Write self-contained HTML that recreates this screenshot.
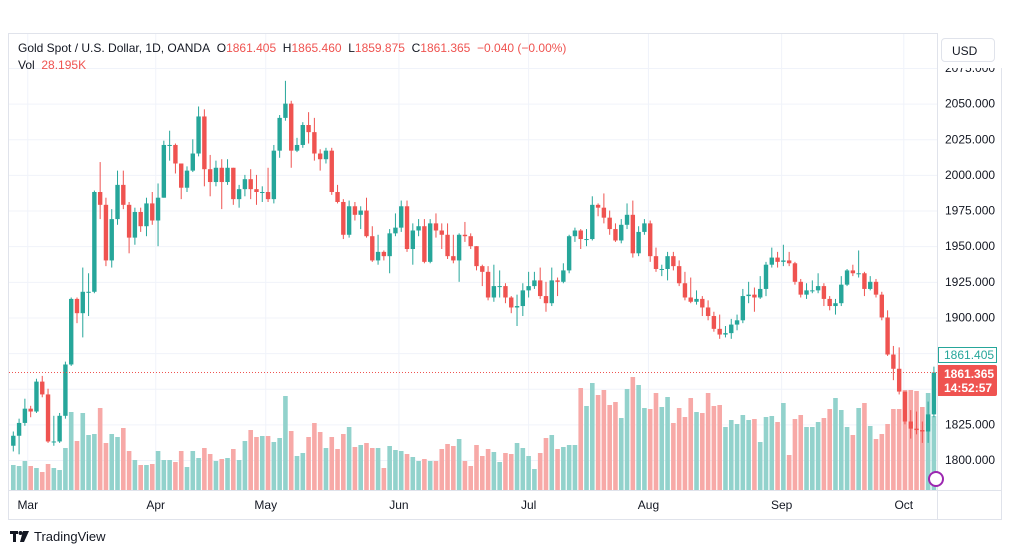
<!DOCTYPE html>
<html><head><meta charset="utf-8"><style>
body{margin:0;width:1012px;height:555px;background:#fff;font-family:"Liberation Sans",sans-serif;overflow:hidden;position:relative}
svg{position:absolute;left:0;top:0}
.r{color:#ef5350}
</style></head><body>
<svg id="c" width="1012" height="555" font-family="Liberation Sans, sans-serif"></svg>
<script>
const opens=[1810,1817,1826,1836,1834,1855,1846,1813,1813,1831,1867,1913,1903,1918,1918,1988,1979,1940,1969,1993,1979,1956,1974,1964,1980,1968,1984,2021,2021,2008,1991,2003,2015,2041,2004,1995,2005,1995,2005,1983,1990,1997,1990,1988,1988,1983,2017,2040,2050,2017,2021,2035,2030,2015,2011,2017,1988,1981,1958,1978,1972,1975,1957,1940,1946,1943,1959,1963,1978,1948,1961,1964,1939,1966,1961,1958,1943,1940,1958,1957,1950,1936,1932,1914,1922,1922,1914,1907,1908,1919,1922,1926,1915,1910,1926,1925,1933,1957,1961,1955,1955,1979,1977,1970,1962,1954,1965,1972,1945,1960,1966,1943,1934,1934,1943,1936,1924,1914,1911,1913,1907,1901,1892,1888,1889,1895,1898,1915,1916,1914,1920,1937,1942,1939,1940,1938,1925,1916,1919,1919,1922,1913,1908,1910,1923,1933,1931,1931,1920,1925,1916,1900,1874,1864,1848,1827,1822,1821,1820,1832];
const closes=[1817,1826,1836,1834,1855,1846,1813,1813,1831,1867,1913,1903,1918,1918,1988,1979,1940,1969,1993,1979,1956,1974,1964,1980,1968,1984,2021,2021,2008,1991,2003,2015,2041,2004,1995,2005,1995,2005,1983,1990,1997,1990,1988,1988,1983,2017,2040,2050,2017,2021,2035,2030,2015,2011,2017,1988,1981,1958,1978,1972,1975,1957,1940,1946,1943,1959,1963,1978,1948,1961,1964,1939,1966,1961,1958,1943,1940,1958,1957,1950,1936,1932,1914,1922,1922,1914,1907,1908,1919,1922,1926,1915,1910,1926,1925,1933,1957,1961,1955,1955,1979,1977,1970,1962,1954,1965,1972,1945,1960,1966,1943,1934,1934,1943,1936,1924,1914,1911,1913,1907,1901,1892,1888,1889,1895,1898,1915,1916,1914,1920,1937,1942,1939,1940,1938,1925,1916,1919,1919,1922,1913,1908,1910,1923,1933,1931,1931,1920,1925,1916,1900,1874,1864,1848,1827,1822,1821,1820,1832,1861.4];
const highs=[1820,1829,1843,1838,1857,1859,1850,1831,1833,1869,1914,1914,1935,1931,1989,2009,1984,1976,2003,2003,1981,1977,1977,1984,1988,1994,2024,2031,2022,2008,2006,2025,2048,2046,2014,2010,2011,2011,2005,1993,2000,2004,2000,1992,2005,2021,2042,2066,2052,2026,2037,2044,2040,2018,2019,2019,1993,1983,1982,1981,1978,1984,1964,1958,1947,1962,1973,1982,1982,1966,1969,1969,1969,1973,1966,1966,1958,1959,1967,1959,1950,1937,1936,1937,1933,1924,1915,1916,1924,1932,1932,1935,1925,1935,1928,1938,1958,1963,1962,1962,1985,1980,1987,1975,1966,1969,1980,1982,1964,1969,1968,1949,1937,1946,1946,1940,1932,1928,1919,1915,1912,1904,1902,1894,1899,1902,1920,1925,1921,1929,1939,1949,1946,1951,1946,1939,1927,1924,1926,1931,1924,1915,1913,1929,1934,1937,1947,1932,1929,1927,1918,1905,1880,1879,1848,1835,1834,1827,1841,1865.5];
const lows=[1806,1804,1824,1830,1833,1844,1812,1810,1812,1829,1866,1896,1886,1901,1917,1969,1936,1935,1965,1976,1945,1951,1960,1957,1965,1950,1984,2010,2001,1983,1988,2002,2013,1992,1985,1992,1976,1993,1979,1977,1985,1983,1979,1981,1981,1980,2012,2038,2005,2016,2019,2022,2010,2003,2008,1986,1980,1955,1956,1968,1962,1956,1939,1937,1940,1931,1957,1960,1946,1937,1957,1938,1938,1956,1948,1941,1938,1925,1953,1948,1933,1922,1912,1911,1914,1910,1903,1894,1901,1914,1920,1913,1904,1908,1915,1924,1931,1953,1948,1950,1954,1971,1966,1958,1953,1952,1962,1942,1943,1958,1939,1932,1929,1926,1933,1922,1912,1910,1909,1901,1898,1890,1885,1886,1885,1891,1896,1910,1904,1913,1915,1935,1935,1936,1936,1923,1914,1913,1917,1917,1908,1905,1902,1908,1922,1929,1928,1915,1919,1914,1898,1873,1856,1846,1825,1815,1818,1812,1812,1830];
const volumes=[25,24,29,24,22,18,26,22,20,42,78,49,77,55,56,82,47,56,53,62,39,30,25,25,26,39,30,30,28,39,23,39,32,42,36,29,31,32,41,30,49,60,53,54,54,48,52,94,59,34,37,53,67,58,42,53,41,56,63,43,45,47,42,42,22,44,40,39,36,33,29,31,29,29,41,46,44,51,29,24,45,34,41,38,28,37,36,47,42,34,21,37,52,55,41,43,45,45,102,84,107,95,100,85,88,72,101,113,105,82,81,97,83,93,67,82,73,92,78,77,97,84,85,63,70,66,75,70,71,48,73,74,68,87,35,71,75,63,63,68,72,81,92,80,63,55,82,87,64,51,56,66,81,81,100,100,99,83,97,74];
const priceTicks=[2075,2050,2025,2000,1975,1950,1925,1900,1875,1850,1825,1800];
const priceLabels=[1,1,1,1,1,1,1,1,0,0,1,1];
const months=["Mar","Apr","May","Jun","Jul","Aug","Sep","Oct"];
const monthIdx=[2.5,24.6,43.6,66.6,89,109.7,132.7,153.8];

const NS="http://www.w3.org/2000/svg";
const svg=document.getElementById('c');
function el(t,a,p){const e=document.createElementNS(NS,t);for(const k in a)e.setAttribute(k,a[k]);(p||svg).appendChild(e);return e;}
const yP=p=>460-(p-1800)*1.4255;
const xI=i=>13.3+i*5.79;
const yV=v=>490-v;
const UP="#26a69a",DN="#ef5350",UPV="#92d2cc",DNV="#f7a9a7";

let fr=el('rect',{x:8.5,y:33.5,width:993,height:486,fill:'none',stroke:'#e0e3eb'});


el('line',{x1:937.5,y1:34,x2:937.5,y2:519,stroke:'#e0e3eb'});
el('line',{x1:9,y1:490.5,x2:1001,y2:490.5,stroke:'#e0e3eb'});

const g=el('g',{});


priceTicks.forEach(p=>{el('line',{x1:9,x2:937,y1:yP(p)+.5,y2:yP(p)+.5,stroke:'#f0f3fa'},g);});
monthIdx.forEach(m=>{el('line',{x1:xI(m),x2:xI(m),y1:34,y2:490,stroke:'#f0f3fa'},g);});

const vg=el('g',{});


volumes.forEach((v,i)=>{
  const r=el('rect',{x:xI(i)-2.3,y:yV(v),width:4.6,height:v,fill:closes[i]>=opens[i]?UPV:DNV},vg);
  
  
});

const cg=el('g',{});


opens.forEach((o,i)=>{
  const c=closes[i],col=c>=o?UP:DN,x=xI(i);
  el('line',{x1:x,x2:x,y1:yP(highs[i]),y2:yP(lows[i]),stroke:col,'stroke-width':1},cg);
  const t=yP(Math.max(o,c)),b=yP(Math.min(o,c));
  const r=el('rect',{x:x-2.2,y:t,width:4.4,height:Math.max(1,b-t),fill:col},cg);
  
  
});

el('line',{x1:9,x2:937,y1:yP(1861.365),y2:yP(1861.365),stroke:DN,'stroke-dasharray':'1 2','stroke-width':1});

priceTicks.forEach((p,i)=>{
  if(!priceLabels[i])return;
  const t=el('text',{x:945,y:yP(p)+4,'font-size':12,fill:'#131722'});
  t.textContent=p.toFixed(3);
  
  
});
el('rect',{x:938,y:0,width:64,height:68,fill:'#fff'});
months.forEach((m,i)=>{
  const t=el('text',{x:xI(monthIdx[i]),y:509,'font-size':12,fill:'#131722','text-anchor':'middle'});
  t.textContent=m;
  
  
});
</script>
<div style="position:absolute;left:941px;top:38px;width:54px;height:24px;border:1px solid #e0e3eb;border-radius:4px;font-size:12px;line-height:24px;padding-left:10px;box-sizing:border-box;color:#131722;background:#fff">USD</div>
<div style="position:absolute;left:938px;top:347px;width:59px;height:16px;border:1px solid #26a69a;box-sizing:border-box;font-size:12px;line-height:14px;color:#26a69a;padding-left:5px;background:#fff">1861.405</div>
<div style="position:absolute;left:938px;top:365px;width:59px;height:31px;background:#ef5350;border-radius:0 2px 2px 0;font-size:12px;line-height:14px;color:#fff;padding:2px 0 0 6px;box-sizing:border-box;font-weight:bold">1861.365<br>14:52:57</div>
<div style="position:absolute;left:18px;top:41px;font-size:12px;color:#131722;white-space:nowrap">Gold Spot / U.S. Dollar, 1D, OANDA&nbsp; O<span class="r">1861.405</span>&nbsp; H<span class="r">1865.460</span>&nbsp; L<span class="r">1859.875</span>&nbsp; C<span class="r">1861.365</span>&nbsp; <span class="r">−0.040 (−0.00%)</span></div>
<div style="position:absolute;left:18px;top:58px;font-size:12px;color:#131722">Vol&nbsp; <span class="r">28.195K</span></div>
<div style="position:absolute;left:928px;top:471px;width:16px;height:16px;border:2px solid #9c27b0;border-radius:50%;box-sizing:border-box;background:#fff"></div>
<div style="position:absolute;left:10px;top:529px;font-size:13px;color:#131722;display:flex;align-items:center;gap:4px">
<svg width="20" height="12" viewBox="0 0 20 12" style="position:static"><rect x="0" y="0" width="8" height="3" fill="#131722"/><rect x="3" y="0" width="3" height="11" fill="#131722"/><circle cx="10.5" cy="2" r="2" fill="#131722"/><polygon points="13,0 19,0 14,11 10,11" fill="#131722"/></svg>TradingView</div>
</body></html>
